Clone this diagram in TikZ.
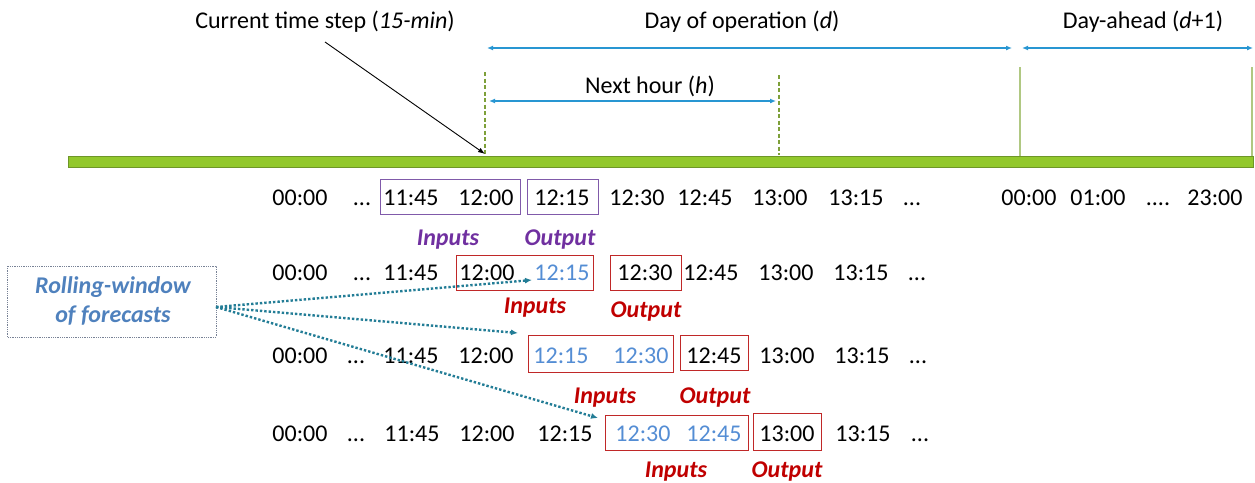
\documentclass[tikz,border=0pt]{standalone}
\usepackage{fontspec}
\setmainfont{Carlito}
\usetikzlibrary{arrows.meta}

\definecolor{barGreen}{RGB}{146,200,44}
\definecolor{barEdge}{RGB}{110,150,40}
\definecolor{tickGreen}{RGB}{126,160,58}
\definecolor{lineGreen}{RGB}{176,200,130}
\definecolor{spanBlue}{RGB}{40,150,210}
\definecolor{timeBlue}{RGB}{84,141,212}
\definecolor{winPurple}{RGB}{112,48,160}
\definecolor{boxPurple}{RGB}{128,90,170}
\definecolor{winRed}{RGB}{192,0,0}
\definecolor{boxRed}{RGB}{192,40,40}
\definecolor{rollBlue}{RGB}{79,129,189}
\definecolor{rollEdge}{RGB}{120,130,150}
\definecolor{feedTeal}{RGB}{35,125,150}

\tikzset{
  tm/.style={anchor=base, inner sep=0pt, font=\fontsize{24}{29}\selectfont},
  ttl/.style={anchor=base, inner sep=0pt, font=\fontsize{24}{29}\selectfont},
  tag/.style={anchor=base, inner sep=0pt, font=\fontsize{24}{29}\selectfont\bfseries\itshape},
  blu/.style={tm, text=timeBlue},
  pbox/.style={draw=boxPurple, line width=1pt},
  rbox/.style={draw=boxRed, line width=1pt},
  span/.style={draw=spanBlue, line width=1.2pt, {Latex[length=6pt,width=5pt]}-{Latex[length=6pt,width=5pt]}},
  feed/.style={draw=feedTeal, line width=2.4pt, dotted, -{Latex[length=7pt,width=6pt]}},
}

\begin{document}
\begin{tikzpicture}[x=1pt,y=-1pt]
\useasboundingbox (0,0) rectangle (1255,482);

% headings
\node[ttl] (cur) at (325,28) {Current time step (\textit{15-min})};
\node[ttl] (dop) at (742,28) {Day of operation (\textit{d})};
\node[ttl] (dah) at (1143,28) {Day-ahead (\textit{d}+1)};
\node[ttl] (nxh) at (650,93) {Next hour (\textit{h})};

% span arrows
\coordinate (dopL) at (487,48);  \coordinate (dopR) at (1012,48);
\coordinate (dahL) at (1022,48); \coordinate (dahR) at (1253,48);
\coordinate (nxhL) at (489,101); \coordinate (nxhR) at (776,101);
\draw[span] (dopL) -- (dopR);
\draw[span] (dahL) -- (dahR);
\draw[span] (nxhL) -- (nxhR);

% ticks on the time line
\draw[tickGreen, line width=1.5pt, dash pattern=on 4pt off 2.5pt] (485,72) -- (485,155);
\draw[tickGreen, line width=1.5pt, dash pattern=on 4pt off 2.5pt] (779,75) -- (779,155);
\draw[lineGreen, line width=1.2pt] (1020,67) -- (1020,156);
\draw[lineGreen, line width=1.2pt] (1252,67) -- (1252,156);

% time line bar
\draw[barEdge, fill=barGreen, line width=0.8pt] (68,156) rectangle (1253,167);

% pointer to the current step
\coordinate (curTail) at (325,42);
\coordinate (curHead) at (485,154);
\draw[black, line width=0.9pt, -{Latex[length=7pt,width=5pt]}] (curTail) -- (curHead);

% row 1
\node[tm] (a1) at (300,205) {00:00};
\node[tm] (a2) at (362,205) {...};
\node[tm] (a3) at (411,205) {11:45};
\node[tm] (a4) at (486,205) {12:00};
\node[tm] (a5) at (562,205) {12:15};
\node[tm] (a6) at (637,205) {12:30};
\node[tm] (a7) at (705,205) {12:45};
\node[tm] (a8) at (780,205) {13:00};
\node[tm] (a9) at (856,205) {13:15};
\node[tm] (a10) at (912,205) {...};
\node[tm] (b1) at (1029,205) {00:00};
\node[tm] (b2) at (1098,205) {01:00};
\node[tm] (b3) at (1158,205) {....};
\node[tm] (b4) at (1215,205) {23:00};
\draw[pbox] (380,179) rectangle (520,214);
\draw[pbox] (527,179) rectangle (598,214);
\node[tag, text=winPurple] (ai) at (448,245) {Inputs};
\node[tag, text=winPurple] (ao) at (560,245) {Output};

% row 2
\node[tm] (c1) at (300,280) {00:00};
\node[tm] (c2) at (362,280) {...};
\node[tm] (c3) at (411,280) {11:45};
\node[tm] (c4) at (487,280) {12:00};
\node[blu] (c5) at (562,280) {12:15};
\node[tm] (c6) at (645,280) {12:30};
\node[tm] (c7) at (711,280) {12:45};
\node[tm] (c8) at (786,280) {13:00};
\node[tm] (c9) at (861,280) {13:15};
\node[tm] (c10) at (917,280) {...};
\draw[rbox] (456,255) rectangle (593,290);
\draw[rbox] (610,255) rectangle (681,290);
\node[tag, text=winRed] (ci) at (535,313) {Inputs};
\node[tag, text=winRed] (co) at (646,317) {Output};

% row 3
\node[tm] (d1) at (300,363) {00:00};
\node[tm] (d2) at (356,363) {...};
\node[tm] (d3) at (411,363) {11:45};
\node[tm] (d4) at (486,363) {12:00};
\node[blu] (d5) at (561,363) {12:15};
\node[blu] (d6) at (641,363) {12:30};
\node[tm] (d7) at (714,363) {12:45};
\node[tm] (d8) at (787,363) {13:00};
\node[tm] (d9) at (862,363) {13:15};
\node[tm] (d10) at (918,363) {...};
\draw[rbox] (528,335) rectangle (673,372);
\draw[rbox] (680,335) rectangle (748,370);
\node[tag, text=winRed] (di) at (605,403) {Inputs};
\node[tag, text=winRed] (do) at (715,403) {Output};

% row 4
\node[tm] (e1) at (300,441) {00:00};
\node[tm] (e2) at (356,441) {...};
\node[tm] (e3) at (412,441) {11:45};
\node[tm] (e4) at (487,441) {12:00};
\node[tm] (e5) at (565,441) {12:15};
\node[blu] (e6) at (643,441) {12:30};
\node[blu] (e7) at (714,441) {12:45};
\node[tm] (e8) at (787,441) {13:00};
\node[tm] (e9) at (863,441) {13:15};
\node[tm] (e10) at (920,441) {...};
\draw[rbox] (605,415) rectangle (748,450);
\draw[rbox] (753,413) rectangle (821,450);
\node[tag, text=winRed] (ei) at (676,477) {Inputs};
\node[tag, text=winRed] (eo) at (787,477) {Output};

% rolling window label
\draw[rollEdge, line width=0.8pt, densely dotted] (7,266) rectangle (216,337);
\node[tag, text=rollBlue] (r1) at (113,293) {Rolling-window};
\node[tag, text=rollBlue] (r2) at (113,322) {of forecasts};
\coordinate (roll) at (216,307);

% feeds into the three forecast rows
\coordinate (f1) at (532,280);
\coordinate (f2) at (518,333);
\coordinate (f3) at (598,418);
\draw[feed] (roll) -- (f1);
\draw[feed] (roll) -- (f2);
\draw[feed] (roll) -- (f3);
\end{tikzpicture}
\end{document}
